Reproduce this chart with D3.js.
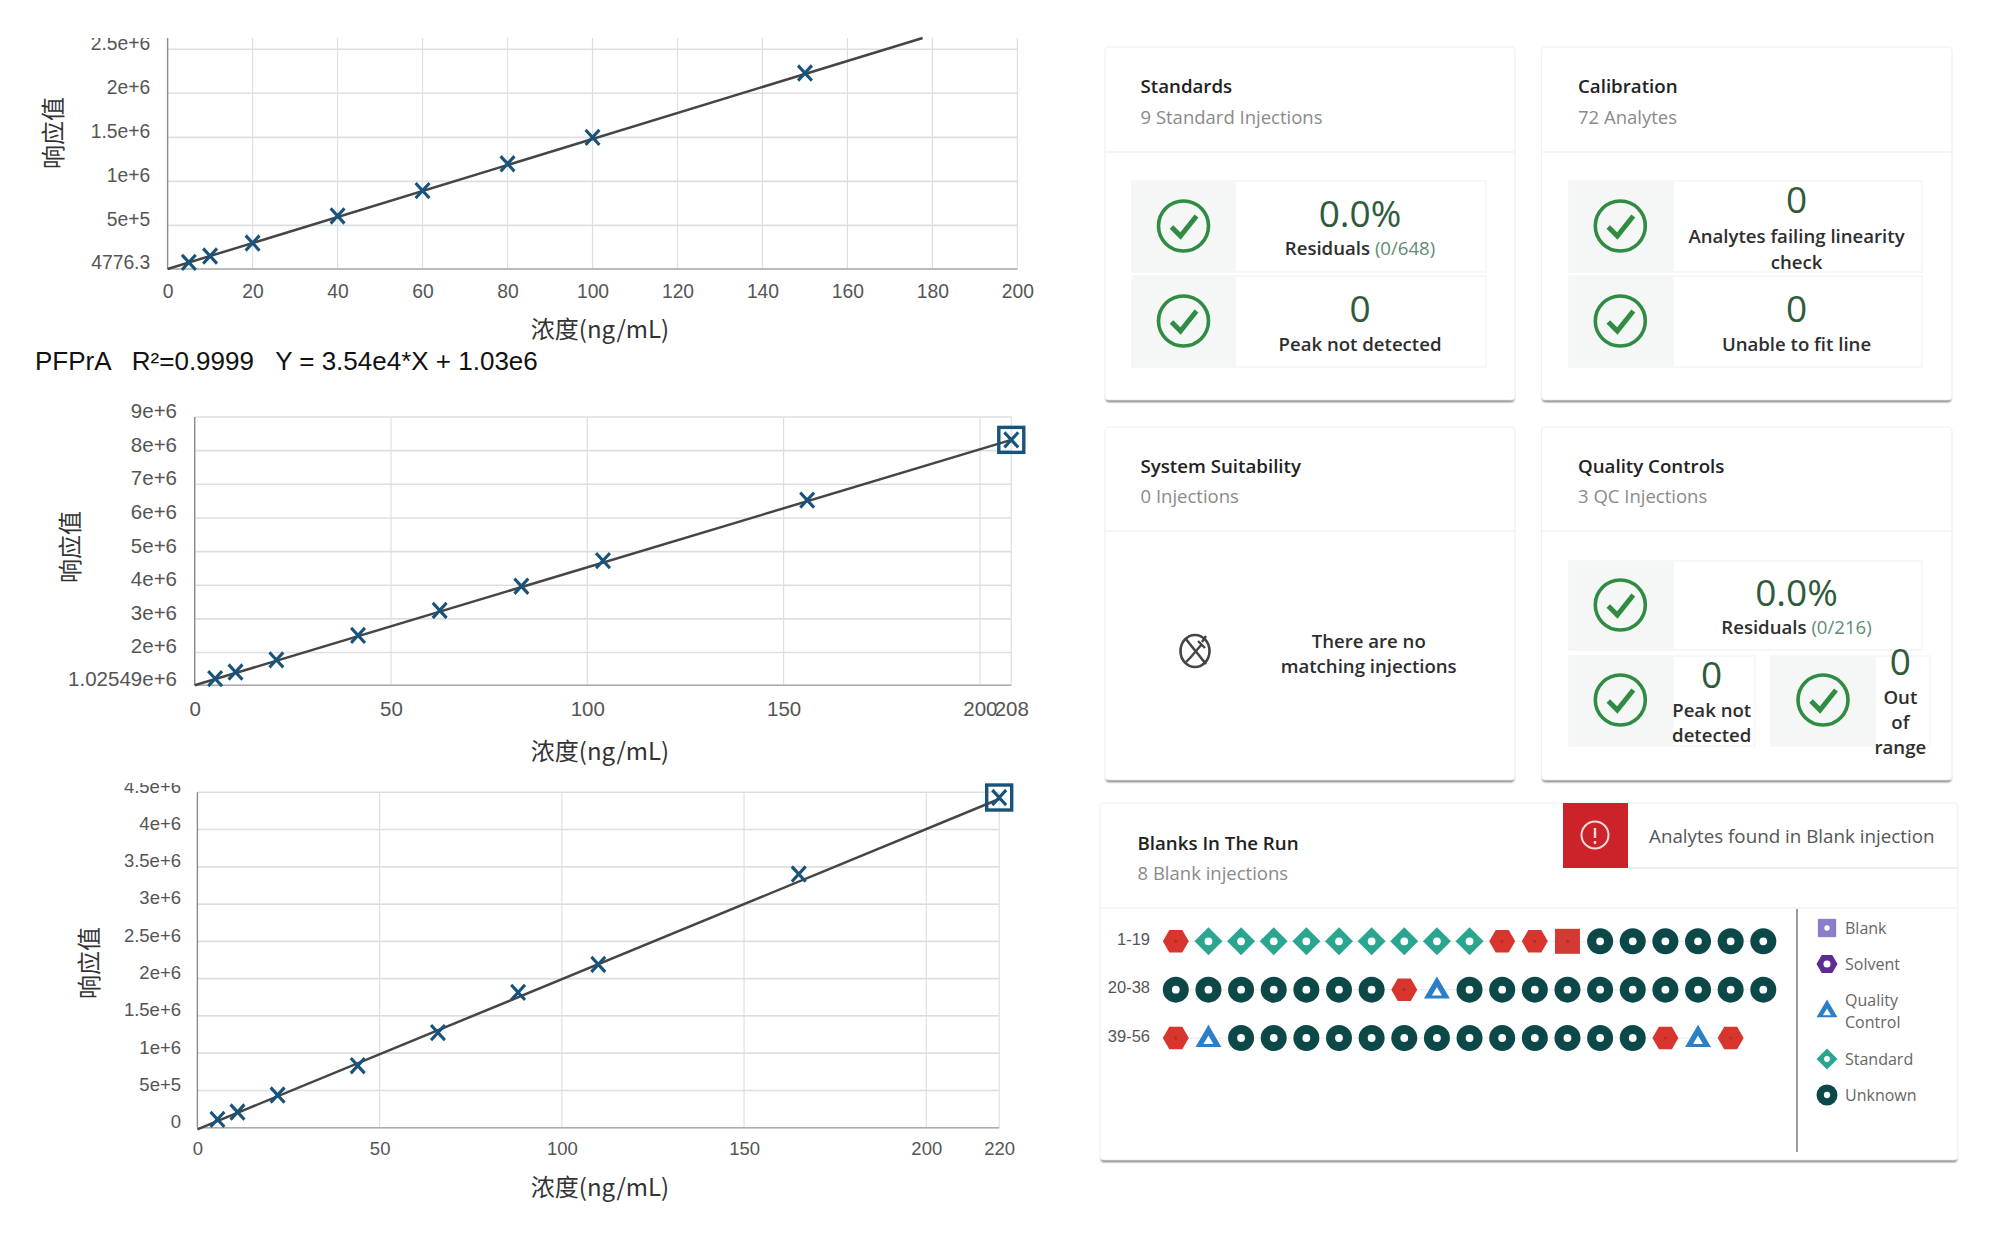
<!DOCTYPE html>
<html><head><meta charset="utf-8">
<script src="https://cdn.jsdelivr.net/npm/d3@7"></script>
<style>html,body{margin:0;padding:0;background:#fff}svg{display:block}</style>
</head><body><svg id="c" width="2000" height="1244"></svg>
<script>
// ---- data ----
const xTicksA = [0,20,40,60,80,100,120,140,160,180,200];
const yTicksA = [4776.3,500000,1000000,1500000,2000000,2500000];
const yLabelsA = ["4776.3","5e+5","1e+6","1.5e+6","2e+6","2.5e+6"];
const concA = [5,10,20,40,60,80,100,150];
const respA = [80500,152000,300000,607000,895000,1200000,1500000,2230000];
const fitA = [[0,4776.3],[177.7,2628000]];

const xTicksB = [0,50,100,150,200,208];
const yTicksB = [1025490,2000000,3000000,4000000,5000000,6000000,7000000,8000000,9000000];
const yLabelsB = ["1.02549e+6","2e+6","3e+6","4e+6","5e+6","6e+6","7e+6","8e+6","9e+6"];
const concB = [5.2,10.4,20.8,41.6,62.4,83.2,104,156,208];
const respB = [1224000,1420000,1780000,2510000,3250000,3970000,4730000,6530000,8320000];
const fitB = [[0,1025490],[208,8320000]];
const outlierB = [208];

const xTicksC = [0,50,100,150,200,220];
const yTicksC = [0,500000,1000000,1500000,2000000,2500000,3000000,3500000,4000000,4500000];
const yLabelsC = ["0","5e+5","1e+6","1.5e+6","2e+6","2.5e+6","3e+6","3.5e+6","4e+6","4.5e+6"];
const concC = [5.5,11,22,44,66,88,110,165,220];
const respC = [112000,210000,438000,832000,1275000,1816000,2190000,3403000,4430000];
const fitC = [[0,-22000],[220,4410000]];
const outlierC = [220];

const xTitle = "浓度(ng/mL)";
const yTitle = "响应值";
const equation = "PFPrA   R²=0.9999   Y = 3.54e4*X + 1.03e6";

const rowLabels = ["1-19","20-38","39-56"];
const row1 = ["S","D","D","D","D","D","D","D","D","D","S","S","Q","U","U","U","U","U","U"];
const row2 = ["U","U","U","U","U","U","U","S","T","U","U","U","U","U","U","U","U","U","U"];
const row3 = ["S","T","U","U","U","U","U","U","U","U","U","U","U","U","U","S","T","S"];
const legendKinds = ["B","V","T","D","U"];
const legendNames = [["Blank"],["Solvent"],["Quality","Control"],["Standard"],["Unknown"]];

// ---- helpers ----
const svg = d3.select("#c");
const defs = svg.append("defs");
defs.append("filter").attr("id","sh").attr("x","-5%").attr("y","-50%").attr("width","110%").attr("height","200%")
  .append("feGaussianBlur").attr("stdDeviation",0.9);
const SANS = "'Liberation Sans',Arial,sans-serif", OPEN = "'Open Sans',sans-serif", CJK = "'Noto Sans CJK SC',sans-serif";
const NAVY = "#17537a", GREEN = "#2f8c42";
function T(g,x,y,s,o={}){
  return g.append("text").attr("x",x).attr("y",y).text(s)
    .attr("font-family",o.ff||OPEN).attr("font-size",o.fs||18).attr("font-weight",o.fw||400)
    .attr("fill",o.c||"#333").attr("text-anchor",o.a||"middle");
}
function chart(id,o){
  const x = d3.scaleLinear().domain(o.xd).range([o.l,o.r]);
  const y = d3.scaleLinear().domain(o.yd).range([o.b,o.t]);
  const g = svg.append("g").attr("id",id);
  const top = o.frameTop!=null?o.frameTop:o.t;
  g.append("g").selectAll("line").data(o.xt).join("line")
    .attr("x1",d=>x(d)).attr("x2",d=>x(d)).attr("y1",top).attr("y2",o.b)
    .attr("stroke","#dde0e3").attr("stroke-width",1.2);
  g.append("g").selectAll("line").data(o.yt).join("line")
    .attr("x1",o.l).attr("x2",o.r).attr("y1",d=>y(d)).attr("y2",d=>y(d))
    .attr("stroke","#dcdfe2").attr("stroke-width",1.6);
  const ya = d3.axisLeft(y).tickValues(o.yt).tickFormat((d,i)=>o.yl[i]).tickSize(0).tickPadding(o.l-o.lx);
  const yg = g.append("g").attr("transform",`translate(${o.l},0)`).call(ya);
  yg.select(".domain").remove();
  yg.selectAll("text").attr("font-family",SANS).attr("font-size",o.fs).attr("fill","#555").attr("dy","0.02em");
  if(o.clip!=null){
    defs.append("clipPath").attr("id",id+"c").append("rect").attr("x",0).attr("y",o.clip).attr("width",o.l).attr("height",600);
    yg.attr("clip-path",`url(#${id}c)`).attr("transform",null).selectAll(".tick").each(function(d){
      d3.select(this).attr("transform",`translate(${o.l},${y(d)})`);
    });
  }
  const xa = d3.axisBottom(x).tickValues(o.xt).tickFormat(d3.format("d")).tickSize(0).tickPadding(o.xb-o.b-15);
  const xg = g.append("g").attr("transform",`translate(0,${o.b})`).call(xa);
  xg.select(".domain").remove();
  xg.selectAll("text").attr("font-family",SANS).attr("font-size",o.fs).attr("fill","#555");
  g.append("line").attr("x1",o.l).attr("x2",o.l).attr("y1",top).attr("y2",o.b).attr("stroke","#8a8d90").attr("stroke-width",1.4);
  g.append("line").attr("x1",o.l).attr("x2",o.r).attr("y1",o.b).attr("y2",o.b).attr("stroke","#a9adb0").attr("stroke-width",1.6);
  g.append("path").datum(o.fit).attr("d",d3.line().x(d=>x(d[0])).y(d=>y(d[1])))
    .attr("fill","none").attr("stroke","#454545").attr("stroke-width",2.5);
  const X = d3.symbol(d3.symbolX,150)();
  g.append("g").selectAll("path").data(o.cx).join("path").attr("d",X)
    .attr("transform",(d,i)=>`translate(${x(d)},${y(o.ry[i])}) scale(0.92,1)`)
    .attr("fill","none").attr("stroke",NAVY).attr("stroke-width",3.3);
  if(o.out){
    g.append("g").selectAll("rect").data(o.out).join("rect")
      .attr("x",d=>x(d)-12.5).attr("width",25).attr("height",25)
      .attr("y",d=>y(o.ry[o.cx.indexOf(d)])-12.5)
      .attr("fill","none").attr("stroke",NAVY).attr("stroke-width",3.4);
  }
  T(g,600,o.xty,xTitle,{ff:CJK,fs:24,c:"#333"});
  T(g,0,0,yTitle,{ff:CJK,fs:24,c:"#333"}).attr("transform",`translate(${o.ytx},${o.yty}) rotate(-90)`);
}
chart("a",{xd:[0,200],yd:[4776.3,2500000],l:167.6,r:1017.4,b:269,t:49.3,xt:xTicksA,yt:yTicksA,yl:yLabelsA,
  cx:concA,ry:respA,fit:fitA,lx:150.2,xb:299,xty:338,ytx:62,yty:133,clip:38,frameTop:38,fs:19.3});
chart("b",{xd:[0,208],yd:[1025490,9000000],l:194.7,r:1011.3,b:685.3,t:417,xt:xTicksB,yt:yTicksB,yl:yLabelsB,
  cx:concB,ry:respB,fit:fitB,out:outlierB,lx:177,xb:716,xty:760,ytx:79,yty:547,fs:20.5});
chart("c",{xd:[0,220],yd:[0,4500000],l:197.4,r:999.2,b:1127.7,t:792.3,xt:xTicksC,yt:yTicksC,yl:yLabelsC,
  cx:concC,ry:respC,fit:fitC,out:outlierC,lx:181,xb:1157,xty:1196,ytx:98,yty:963,clip:783,fs:18.5});
T(svg,35,370,equation,{ff:SANS,fs:26,c:"#111",a:"start"}).style("white-space","pre");

// ---- cards ----
function card(x0,x1,y0,y1,div,title,sub,tx,ty1,ty2){
  const g = svg.append("g");
  g.append("rect").attr("x",x0+1).attr("y",y1-6).attr("width",x1-x0-2).attr("height",8).attr("rx",3)
    .attr("fill","#6f7375").attr("filter","url(#sh)");
  g.append("rect").attr("x",x0).attr("y",y0).attr("width",x1-x0).attr("height",y1-y0).attr("rx",4)
    .attr("fill","#fff").attr("stroke","#eef0f1").attr("stroke-width",1.2);
  g.append("line").attr("x1",x0).attr("x2",x1).attr("y1",div).attr("y2",div).attr("stroke","#f0f2f2").attr("stroke-width",1.5);
  T(g,tx,ty1,title,{fw:600,fs:18.7,c:"#222",a:"start"});
  T(g,tx,ty2,sub,{fs:18.5,c:"#8a8a8a",a:"start"});
  return g;
}
function check(g,cx,cy){
  g.append("circle").attr("cx",cx).attr("cy",cy).attr("r",25).attr("fill","none").attr("stroke",GREEN).attr("stroke-width",3.6);
  g.append("path").attr("transform",`translate(${cx},${cy})`).attr("d","M-12,1 L-3,10 L13,-10")
    .attr("fill","none").attr("stroke",GREEN).attr("stroke-width",5);
}
function tile(g,x0,xm,x1,y0,y1,cx,cy){
  g.append("rect").attr("x",x0).attr("y",y0).attr("width",x1-x0).attr("height",y1-y0).attr("fill","#fff").attr("stroke","#f3f5f5").attr("stroke-width",1.5);
  g.append("rect").attr("x",x0).attr("y",y0).attr("width",xm-x0).attr("height",y1-y0).attr("fill","#f5f6f6");
  check(g,cx,cy);
}
const BIG = {fs:37,c:"#2f5a3c"}, LAB = {fw:600,fs:18.6,c:"#2e2e2e"};
function resid(g,x,y,a,b){
  const t = T(g,x,y,a,LAB);
  t.append("tspan").text(b).attr("fill","#5f8c73").attr("font-weight",400);
}
const c1 = card(1105,1515,47,400,152,"Standards","9 Standard Injections",1140.5,93,124);
tile(c1,1132,1236,1486,181,272,1183.5,226);
T(c1,1360,227,"0.0%",BIG); resid(c1,1360,255,"Residuals ","(0/648)");
tile(c1,1132,1236,1486,276,367,1183.5,321);
T(c1,1360,322,"0",BIG); T(c1,1360,350.5,"Peak not detected",LAB);

const c2 = card(1541.5,1952,47,400,152,"Calibration","72 Analytes",1578,93,124);
tile(c2,1569,1674,1922,181,272,1620.3,226);
T(c2,1796.5,213,"0",BIG); T(c2,1796.5,243,"Analytes failing linearity",LAB); T(c2,1796.5,268.5,"check",LAB);
tile(c2,1569,1674,1922,276,367,1620.3,321);
T(c2,1796.5,322,"0",BIG); T(c2,1796.5,350.5,"Unable to fit line",LAB);

const c3 = card(1105,1515,427,780,531,"System Suitability","0 Injections",1140.5,473,503);
T(c3,1368.7,647.5,"There are no",LAB); T(c3,1368.7,672.5,"matching injections",LAB);
{const g=c3.append("g").attr("transform","translate(1195,651)").attr("fill","none").attr("stroke","#444");
 g.append("ellipse").attr("rx",14.5).attr("ry",16).attr("stroke-width",2.6);
 g.append("path").attr("d","M-10,-13 L11,13").attr("stroke-width",2.6);
 g.append("path").attr("d","M-5,7 L7,-7 M3,-10 L10,-3 M7,-9 L11,-15 M-5,7 L-9,11").attr("stroke-width",2.4);}

const c4 = card(1541.5,1952,427,780,531,"Quality Controls","3 QC Injections",1578,473,503);
tile(c4,1569,1674,1922,561,650,1620.3,605);
T(c4,1796.5,606,"0.0%",BIG); resid(c4,1796.5,634,"Residuals ","(0/216)");
tile(c4,1569,1674,1755,656,746,1620.3,700);
T(c4,1711.7,688,"0",BIG); T(c4,1711.7,717,"Peak not",LAB); T(c4,1711.7,742,"detected",LAB);
tile(c4,1771,1876,1930,656,746,1823,700);
T(c4,1900.4,675,"0",BIG); T(c4,1900.4,704,"Out",LAB); T(c4,1900.4,729,"of",LAB); T(c4,1900.4,754,"range",LAB);

const c5 = card(1100,1958,803,1160,908,"Blanks In The Run","8 Blank injections",1137.5,850,880);
c5.append("rect").attr("x",1563).attr("y",803).attr("width",65).attr("height",65).attr("fill","#cc2229");
c5.append("line").attr("x1",1628).attr("x2",1958).attr("y1",868).attr("y2",868).attr("stroke","#e4e6e6").attr("stroke-width",1.5);
{const g=c5.append("g").attr("transform","translate(1595,835)").attr("fill","none").attr("stroke","#f6dcdc");
 g.append("circle").attr("r",13.5).attr("stroke-width",2);
 g.append("path").attr("d","M0,-7 L0,3 M0,6 L0,9").attr("stroke-width",2.4);}
T(c5,1649,843,"Analytes found in Blank injection",{fs:18.8,c:"#555",a:"start"});

// ---- injection sequence ----
const STYLE = {
  S:{c:"#d8352f",h:"#b92b28",hr:1.6,s:"hex"}, Q:{c:"#d23a33",h:"#b92b28",hr:1.6,s:"sq"},
  D:{c:"#2aa690",h:"#fff",hr:3.6,s:"dia"}, U:{c:"#0d4849",h:"#fff",hr:3.9,s:"cir"},
  T:{c:"#2a7fc6",h:"#fff",hr:5,s:"tri"}, B:{c:"#8d7cc9",h:"#fff",hr:3.6,s:"sq"}, V:{c:"#5b2c91",h:"#fff",hr:4.4,s:"hex"}
};
function poly(s,r){
  const P=(n,a)=>d3.range(n).map(i=>{const t=a+i*2*Math.PI/n;return [r*Math.cos(t),r*Math.sin(t)];});
  if(s==="cir") return d3.arc()({innerRadius:0,outerRadius:r,startAngle:0,endAngle:2*Math.PI});
  const pts = s==="hex"?P(6,0):s==="dia"?P(4,0):s==="sq"?P(4,Math.PI/4).map(p=>[p[0]*1.36,p[1]*1.36]):P(3,-Math.PI/2).map(p=>[p[0]*1.15,p[1]*1.13+r*.12]);
  return d3.line()(pts)+"Z";
}
function marker(g,kind,cx,cy,r){
  const st=STYLE[kind];
  g.append("path").attr("d",poly(st.s,r)).attr("transform",`translate(${cx},${cy})`).attr("fill",st.c);
  g.append("path").attr("d",poly(st.s==="tri"?"tri":"cir",st.hr*r/13)).attr("transform",`translate(${cx},${cy+(st.s==="tri"?2.5:0)})`).attr("fill",st.h);
}
const rx = d3.scaleLinear().domain([0,18]).range([1175.8,1763.3]);
const ry = d3.scalePoint().domain(rowLabels).range([941.3,1038]);
[row1,row2,row3].forEach((row,ri)=>{
  const yy = ry(rowLabels[ri]);
  const g = svg.append("g");
  g.append("line").attr("x1",rx(0)).attr("x2",rx(row.length-1)).attr("y1",yy).attr("y2",yy).attr("stroke","#e6e9e9").attr("stroke-width",1);
  row.forEach((k,i)=>marker(g,k,rx(i),yy,k==="D"?14:13));
  T(g,1150,yy+3.5,rowLabels[ri],{ff:SANS,fs:16.5,c:"#555",a:"end"});
});
// legend
{const g=svg.append("g");
 g.append("line").attr("x1",1797).attr("x2",1797).attr("y1",909).attr("y2",1152).attr("stroke","#9a9d9f").attr("stroke-width",2);
 const pos = {B:928,V:964,T:1010,D:1059,U:1095};
 legendKinds.forEach((k,i)=>{
   marker(g,k,1827,pos[k],k==="B"?9.5:10.5);
   const ns=legendNames[i];
   ns.forEach((n,j)=>T(g,1845,pos[k]+(ns.length>1?-4+j*22:6),n,{fs:16,c:"#666",a:"start"}));
 });}
</script></body></html>
